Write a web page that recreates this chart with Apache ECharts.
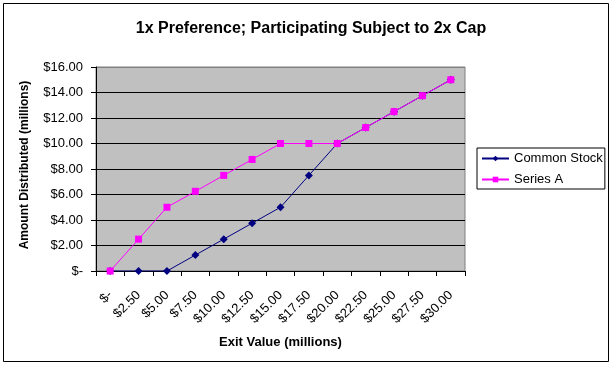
<!DOCTYPE html>
<html>
<head>
<meta charset="utf-8">
<script src="https://cdn.jsdelivr.net/npm/echarts@6/dist/echarts.min.js"></script>
<style>
html,body{margin:0;padding:0;background:#fff;}
#c{width:612px;height:365px;}
</style>
</head>
<body>
<div id="c"></div>
<script>
var categories = ['$-', '$2.50', '$5.00', '$7.50', '$10.00', '$12.50', '$15.00', '$17.50', '$20.00', '$22.50', '$25.00', '$27.50', '$30.00'];
var commonStock = [0, 0, 0, 1.25, 2.5, 3.75, 5, 7.5, 10, 11.25, 12.5, 13.75, 15];
var seriesA = [0, 2.5, 5, 6.25, 7.5, 8.75, 10, 10, 10, 11.25, 12.5, 13.75, 15];
var yTicks = [0, 2, 4, 6, 8, 10, 12, 14, 16];

var FONT = '"Liberation Sans", Arial, sans-serif';
var chart = echarts.init(document.getElementById('c'), null, {renderer: 'canvas'});
chart.setOption({
  animation: false,
  backgroundColor: '#ffffff',
  textStyle: {fontFamily: FONT, color: '#000'},
  title: {
    text: '1x Preference; Participating Subject to 2x Cap',
    left: 306, top: 16, textAlign: 'center',
    textStyle: {fontFamily: FONT, fontSize: 16, fontWeight: 'bold', color: '#000'}
  },
  graphic: [{
    type: 'rect', shape: {x: 3.5, y: 3.5, width: 605, height: 358},
    style: {fill: 'none', stroke: '#000', lineWidth: 1}, silent: true
  }],
  legend: {
    left: 477, top: 148, orient: 'vertical',
    borderColor: '#000', borderWidth: 1,
    padding: [4, 2, 3, 4], itemGap: 8,
    itemWidth: 27, itemHeight: 7,
    textStyle: {fontFamily: FONT, fontSize: 13, color: '#000'},
    data: ['Common Stock', 'Series A']
  },
  grid: {
    left: 96, top: 67, width: 369, height: 204,
    show: true, backgroundColor: '#c0c0c0', borderColor: '#808080', borderWidth: 1
  },
  xAxis: {
    type: 'category', data: categories, boundaryGap: true,
    name: 'Exit Value (millions)', nameLocation: 'middle', nameGap: 65,
    nameTextStyle: {fontFamily: FONT, fontSize: 13, fontWeight: 'bold', color: '#000'},
    axisLine: {lineStyle: {color: '#000', width: 1}},
    axisTick: {show: true, inside: false, length: 5, alignWithLabel: false, lineStyle: {color: '#000'}},
    axisLabel: {rotate: 45, margin: 22, fontFamily: FONT, fontSize: 13, color: '#000', interval: 0},
    splitLine: {show: false}
  },
  yAxis: {
    type: 'value', min: 0, max: 16, interval: 2,
    name: 'Amount Distributed (millions)', nameLocation: 'middle', nameGap: 65,
    nameTextStyle: {fontFamily: FONT, fontSize: 12, fontWeight: 'bold', color: '#000', padding: [0, 0, 0, 8]},
    axisLine: {show: true, lineStyle: {color: '#000', width: 1}},
    axisTick: {show: true, inside: false, length: 5, lineStyle: {color: '#000'}},
    axisLabel: {
      margin: 13, fontFamily: FONT, fontSize: 13, color: '#000',
      formatter: function (v) { return v === 0 ? '$-' : '$' + v.toFixed(2); }
    },
    splitLine: {show: true, lineStyle: {color: ['#000', '#000', '#000', '#000', '#000', '#000', '#000', '#000', '#808080'], width: 1}}
  },
  series: [{
    name: 'Common Stock', type: 'line', data: commonStock,
    symbol: 'diamond', symbolSize: 8, showAllSymbol: true,
    lineStyle: {color: '#000080', width: 1},
    itemStyle: {color: '#000080'}
  }, {
    name: 'Series A', type: 'line', data: seriesA,
    symbol: 'rect', symbolSize: 7, showAllSymbol: true,
    lineStyle: {color: '#ff00ff', width: 1},
    itemStyle: {color: '#ff00ff'}
  }]
});
</script>
</body>
</html>
